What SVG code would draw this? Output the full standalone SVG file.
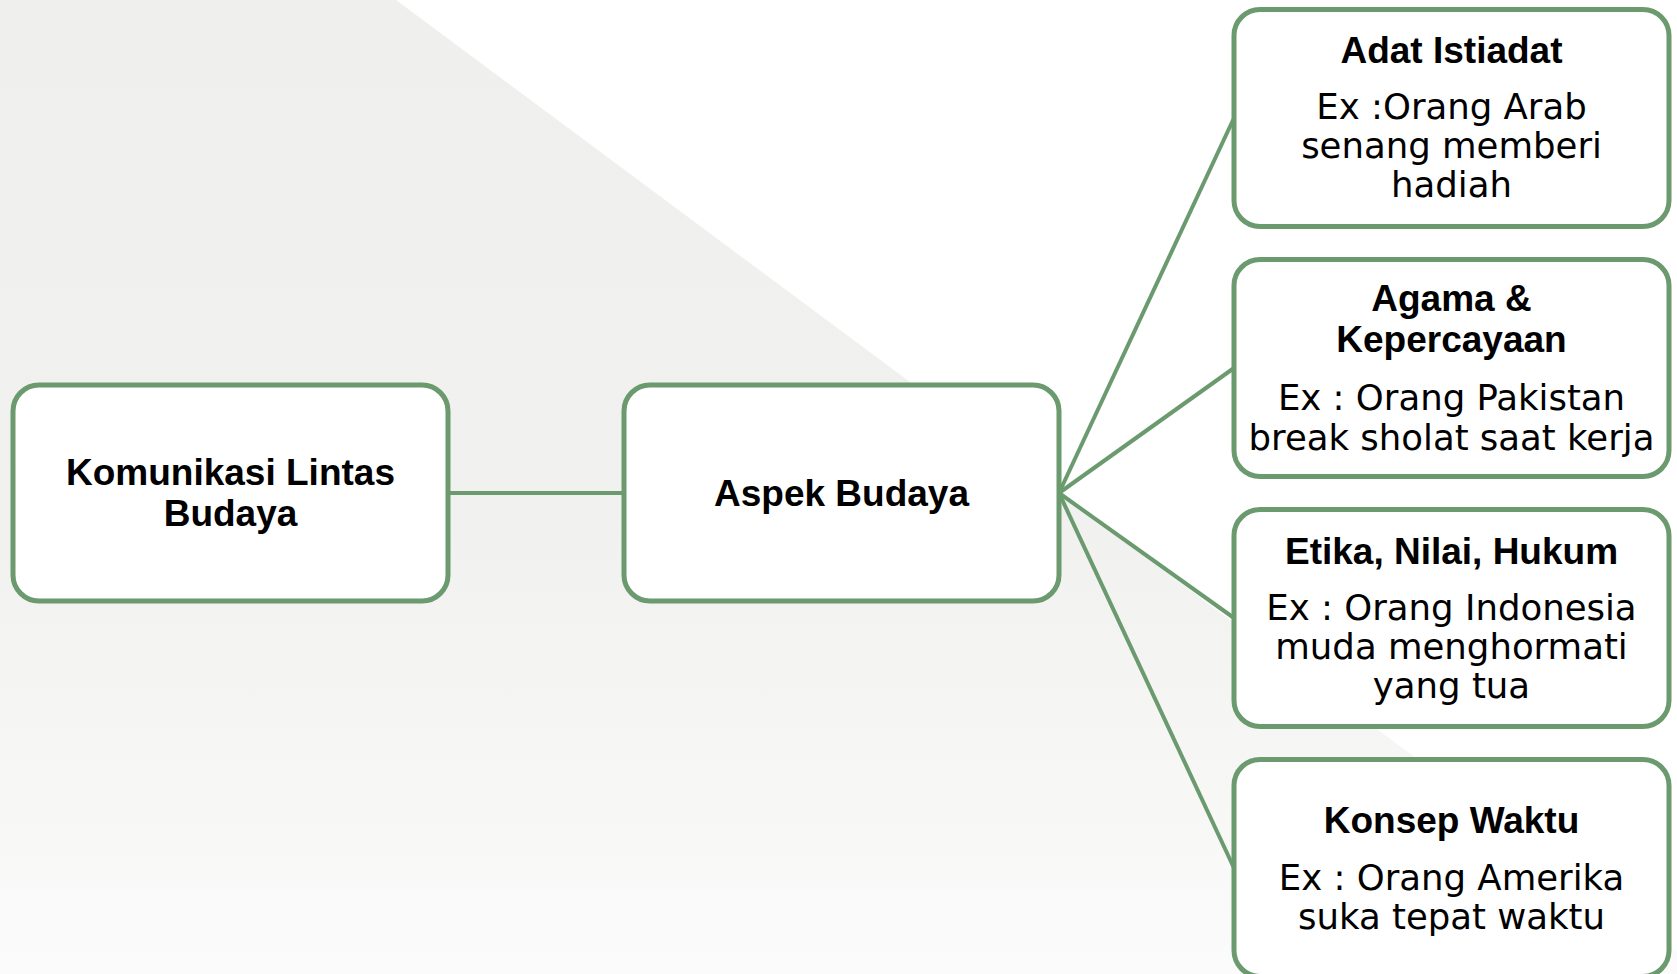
<svg xmlns="http://www.w3.org/2000/svg" width="1677" height="974" viewBox="0 0 1677 974">
  <style>
    .box { fill: #ffffff; stroke: #6b9a6f; stroke-width: 5; }
    .conn { stroke: #6b9a6f; stroke-width: 4; fill: none; }
    .t { font-family: "Liberation Sans", Arial, sans-serif; font-weight: bold; font-size: 37px; fill: #000000; text-anchor: middle; }
    .r { font-family: "DejaVu Sans", "Liberation Sans", sans-serif; font-size: 35.5px; fill: #000000; text-anchor: middle; }
  </style>
  <defs>
    <linearGradient id="bg" x1="0" y1="0" x2="0" y2="1">
      <stop offset="0" stop-color="#efefed"/>
      <stop offset="0.55" stop-color="#f1f1ef"/>
      <stop offset="1" stop-color="#fbfbfb"/>
    </linearGradient>
  </defs>
  <rect x="0" y="0" width="1677" height="974" fill="#ffffff"/>
  <polygon points="0,0 396,0 1677,952 1677,974 0,974" fill="url(#bg)"/>

  <g id="connectors">
    <line class="conn" x1="448" y1="493" x2="624" y2="493"/>
    <line class="conn" x1="1059" y1="493" x2="1234" y2="118"/>
    <line class="conn" x1="1059" y1="493" x2="1234" y2="368"/>
    <line class="conn" x1="1059" y1="493" x2="1234" y2="618"/>
    <line class="conn" x1="1059" y1="493" x2="1234" y2="868"/>
  </g>

  <g id="node-komunikasi">
    <rect class="box" x="13" y="385" width="435" height="216" rx="26"/>
    <text class="t" x="230.5" y="485">Komunikasi Lintas</text>
    <text class="t" x="230.5" y="526">Budaya</text>
  </g>

  <g id="node-aspek">
    <rect class="box" x="624" y="385" width="435" height="216" rx="26"/>
    <text class="t" x="841.5" y="506">Aspek Budaya</text>
  </g>

  <g id="node-adat">
    <rect class="box" x="1234" y="9.5" width="435" height="217" rx="26"/>
    <text class="t" x="1451.5" y="63">Adat Istiadat</text>
    <text class="r" x="1451.5" y="119">Ex :Orang Arab</text>
    <text class="r" x="1451.5" y="158">senang memberi</text>
    <text class="r" x="1451.5" y="197">hadiah</text>
  </g>

  <g id="node-agama">
    <rect class="box" x="1234" y="259.5" width="435" height="217" rx="26"/>
    <text class="t" x="1451.5" y="311">Agama &amp;</text>
    <text class="t" x="1451.5" y="352">Kepercayaan</text>
    <text class="r" x="1451.5" y="410">Ex : Orang Pakistan</text>
    <text class="r" x="1451.5" y="450">break sholat saat kerja</text>
  </g>

  <g id="node-etika">
    <rect class="box" x="1234" y="509.5" width="435" height="217" rx="26"/>
    <text class="t" x="1451.5" y="564">Etika, Nilai, Hukum</text>
    <text class="r" x="1451.5" y="620">Ex : Orang Indonesia</text>
    <text class="r" x="1451.5" y="659">muda menghormati</text>
    <text class="r" x="1451.5" y="698">yang tua</text>
  </g>

  <g id="node-waktu">
    <rect class="box" x="1234" y="759.5" width="435" height="217" rx="26"/>
    <text class="t" x="1451.5" y="833">Konsep Waktu</text>
    <text class="r" x="1451.5" y="890">Ex : Orang Amerika</text>
    <text class="r" x="1451.5" y="929">suka tepat waktu</text>
  </g>
</svg>
